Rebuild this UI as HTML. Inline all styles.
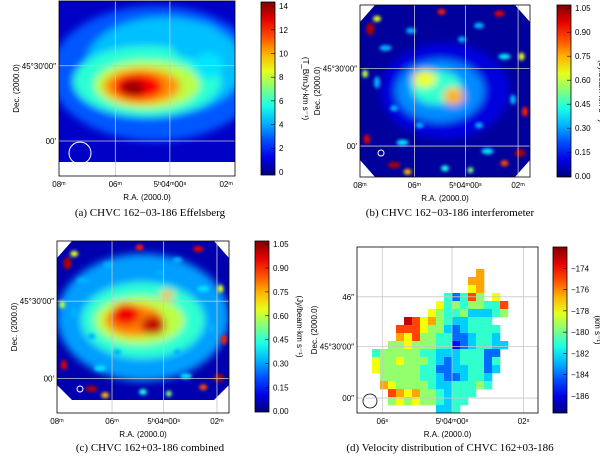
<!DOCTYPE html>
<html><head><meta charset="utf-8">
<style>
html,body{margin:0;padding:0;background:#fff;}
svg{display:block;font-family:"Liberation Serif",serif;}
.t{font-size:8px;fill:#000;font-family:"Liberation Sans",sans-serif;}
.cap{font-size:11px;fill:#000;}
</style></head>
<body>
<svg id="fig" width="600" height="459" viewBox="0 0 600 459" xmlns="http://www.w3.org/2000/svg">
<defs>
<filter id="blur6" x="-50%" y="-50%" width="200%" height="200%"><feGaussianBlur stdDeviation="4"/></filter>
<filter id="blur3" x="-50%" y="-50%" width="200%" height="200%"><feGaussianBlur stdDeviation="1.5"/></filter>
<clipPath id="clipA"><rect x="59" y="1" width="176" height="161"/></clipPath>
<clipPath id="clipB"><polygon points="375,5 515,5 530,22 530,160 515,177 375,177 360,160 360,22"/></clipPath>
<clipPath id="clipC"><polygon points="72,241 214,241 229,258 229,385 214,400 72,400 57,385 57,258"/></clipPath>
</defs>
<g id="panels"></g>
</svg>
<script>
// ---------- data ----------
const cbarATicks = [0,2,4,6,8,10,12,14];
const cbarBTicks = [0.00,0.15,0.30,0.45,0.60,0.75,0.90,1.05];
const cbarCTicks = [0.00,0.15,0.30,0.45,0.60,0.75,0.90,1.05];
const cbarDTicks = [-174,-176,-178,-180,-182,-184,-186];
const velocityLevels = [-186.5,-185.5,-184,-182.5,-181,-179.5,-178,-176.5,-175,-173];
const velocityRows = [
".............7....",
"............77....",
"............67....",
".........42485.6..",
"........645455448.",
".......6544533345.",
"....98675433444...",
"...8886553234444..",
"...7685544223443..",
"..556555441234433.",
"4555554433344422..",
"6556555432344424..",
"6555554422334423..",
".55555443223443...",
".76555543344454...",
"..87675543444.....",
"..5656554344......",
"........334......."
];
// intensity blobs [cx, cy, rx, ry, value]  (fraction coords of panel)
const blobsA = [[0.55,0.45,0.6,0.42,3],[0.6,0.4,0.45,0.3,4.5],[0.5,0.5,0.42,0.22,6],[0.5,0.52,0.3,0.15,8],[0.47,0.53,0.22,0.11,10.5],[0.45,0.53,0.14,0.08,12.5],[0.42,0.54,0.07,0.05,14],[0.78,0.25,0.15,0.12,4.5],[0.85,0.4,0.08,0.08,5]];
const blobsB = [[0.5,0.5,0.38,0.28,0.1],[0.47,0.5,0.26,0.18,0.28],[0.45,0.48,0.15,0.1,0.45],[0.38,0.43,0.07,0.05,0.65],[0.55,0.53,0.06,0.05,0.75]];
const blobsC = [[0.5,0.48,0.5,0.4,0.3],[0.5,0.5,0.36,0.24,0.45],[0.48,0.5,0.26,0.15,0.6],[0.45,0.5,0.17,0.1,0.8],[0.4,0.46,0.08,0.07,0.95],[0.56,0.53,0.07,0.06,1.0],[0.64,0.34,0.04,0.03,0.75]];

function jet(t){t=Math.max(0,Math.min(1,t));
 const r=Math.max(0,Math.min(1,1.5-Math.abs(4*t-3))),g=Math.max(0,Math.min(1,1.5-Math.abs(4*t-2))),b=Math.max(0,Math.min(1,1.5-Math.abs(4*t-1)));
 return `rgb(${Math.round(r*255)},${Math.round(g*255)},${Math.round(b*255)})`;}
const NS="http://www.w3.org/2000/svg";
const root=document.getElementById('panels');
function el(tag,attrs,parent){const e=document.createElementNS(NS,tag);for(const k in attrs)e.setAttribute(k,attrs[k]);(parent||root).appendChild(e);return e;}
function txt(x,y,s,cls,anchor,parent){const e=el('text',{x:x,y:y,class:cls,'text-anchor':anchor||'start'},parent);e.textContent=s;return e;}

function colorbar(name,x,y0,y1,vmin,vmax,ticks,fmt,label){
 const g=el('g',{});
 
 
 const id='grad-'+name;
 const lg=el('linearGradient',{id:id,x1:0,y1:1,x2:0,y2:0},document.querySelector('defs'));
 for(let i=0;i<=10;i++){el('stop',{offset:i/10,'stop-color':jet(i/10)},lg);}
 el('rect',{x:x,y:y0,width:14,height:y1-y0,fill:`url(#${id})`,stroke:'#000','stroke-width':0.8},g);
 const sy=v=>y1-(v-vmin)/(vmax-vmin)*(y1-y0);
 ticks.forEach(v=>{const yy=sy(v);el('line',{x1:x+10,x2:x+14,y1:yy,y2:yy,stroke:'#000','stroke-width':0.6},g);
  const t=txt(x+18,yy+3,fmt(v),'t','start',g);
  
  });
 const l=txt(0,0,label,'t','middle',g);l.setAttribute('transform',`translate(${x+42},${(y0+y1)/2}) rotate(90)`);l.setAttribute('font-size','7');
}

function frame(name,x0,y0,x1,y1,vx,hy,xl,yl,cap,capx,capy){
 const g=el('g',{});
 
 
 vx.forEach(v=>el('line',{x1:x0+v*(x1-x0),x2:x0+v*(x1-x0),y1:y0,y2:y1,stroke:'#c8c8c8','stroke-width':0.8},g));
 hy.forEach(v=>el('line',{x1:x0,x2:x1,y1:y0+v*(y1-y0),y2:y0+v*(y1-y0),stroke:'#c8c8c8','stroke-width':0.8},g));
 el('rect',{x:x0,y:y0,width:x1-x0,height:y1-y0,fill:'none',stroke:'#000','stroke-width':0.8},g);
 xl.forEach(([v,s])=>{const t=txt(x0+v*(x1-x0),y1+11,s,'t','middle',g);t.setAttribute('font-size','7');});
 yl.forEach(([v,s])=>{const t=txt(x0-3,y0+v*(y1-y0)+3,s,'t','end',g);t.setAttribute('font-size','7');});
 const xt=txt((x0+x1)/2,y1+24,'R.A. (2000.0)','t','middle',g);xt.setAttribute('font-size','9');
 const yt=txt(0,0,'Dec. (2000.0)','t','middle',g);yt.setAttribute('font-size','9');
 yt.setAttribute('transform',`translate(${x0-40},${(y0+y1)/2}) rotate(-90)`);
 const c=txt(capx,capy,cap,'cap','middle');
 
 
}

function blobMap(name,x0,y0,w,h,clip,vmax,blobs,bgVal,noise){
 const g=el('g',{'clip-path':`url(#${clip})`});
 
 
 el('rect',{x:x0,y:y0,width:w,height:h,fill:jet(bgVal/vmax)},g);
 const gb=el('g',{filter:'url(#blur6)'},g);
 blobs.forEach(b=>{const e=el('ellipse',{cx:x0+b[0]*w,cy:y0+b[1]*h,rx:b[2]*w,ry:b[3]*h,fill:jet(b[4]/vmax)},gb);
  
  });
 if(noise){const gn=el('g',{filter:'url(#blur3)'},g);
  noise.forEach(n=>el('ellipse',{cx:x0+n[0]*w,cy:y0+n[1]*h,rx:n[2],ry:n[3],fill:jet(n[4])},gn));}
 return g;
}
// edge noise specks [fx,fy,rx,ry,t]
const edgeSpecks=[
[0.15,0.25,6,3,0.3],[0.1,0.45,3,6,0.3],[0.85,0.3,6,3,0.35],[0.9,0.55,3,5,0.3],[0.25,0.8,6,3,0.35],[0.75,0.85,6,3,0.35],
[0.3,0.15,5,3,0.3],[0.7,0.12,5,3,0.3],[0.6,0.2,4,3,0.3],[0.35,0.7,4,3,0.3],[0.7,0.7,4,3,0.3],[0.2,0.6,4,3,0.3],
[0.06,0.14,4,6,0.95],[0.1,0.08,4,3,0.6],[0.94,0.86,5,4,0.95],[0.97,0.62,3,5,0.85],[0.04,0.78,3,5,0.9],
[0.2,0.93,6,3,0.95],[0.28,0.97,4,3,0.7],[0.82,0.05,5,3,0.9],[0.48,0.04,4,3,0.85],[0.95,0.3,3,4,0.6],
[0.5,0.95,4,3,0.4],[0.85,0.92,4,3,0.8],[0.03,0.4,3,4,0.55],[0.65,0.96,3,3,0.5]];

// Panel A
blobMap('panel-a',59,1,176,161,'clipA',14.35,blobsA,1,null);
el('rect',{x:59,y:162,width:176,height:14,fill:'#fff'});
el('circle',{cx:80,cy:153,r:11,fill:'none',stroke:'#fff','stroke-width':1});
frame('panel-a',59,1,235,176,[0.32,0.63],[0.37,0.8],[[0.0,'08ᵐ'],[0.32,'06ᵐ'],[0.63,'5ʰ04ᵐ00ˢ'],[0.95,'02ᵐ']],[[0.37,'45°30′00″'],[0.8,'00′']],'(a) CHVC 162−03-186 Effelsberg',150,216);
colorbar('colorbar-a',261,2,175,-0.26,14.35,cbarATicks,v=>String(v),'(T_B/mJy·km s⁻¹)');

// Panel B
blobMap('panel-b',360,5,170,172,'clipB',1.07,blobsB,0.03,edgeSpecks);
el('circle',{cx:381,cy:153,r:3,fill:'none',stroke:'#fff','stroke-width':1});
frame('panel-b',360,5,530,177,[0.32,0.62,0.93],[0.37,0.82],[[0.0,'08ᵐ'],[0.32,'06ᵐ'],[0.62,'5ʰ04ᵐ00ˢ'],[0.93,'02ᵐ']],[[0.37,'45°30′00″'],[0.82,'00′']],'(b) CHVC 162−03-186 interferometer',450,216);
colorbar('colorbar-b',557,5,177,-0.005,1.07,cbarBTicks,v=>v.toFixed(2),'(Jy/beam·km s⁻¹)');

// Panel C
blobMap('panel-c',57,241,172,159,'clipC',1.07,blobsC,0.05,edgeSpecks);
el('rect',{x:57,y:400,width:172,height:13,fill:'#fff'});
el('circle',{cx:80,cy:389,r:3,fill:'none',stroke:'#fff','stroke-width':1});
frame('panel-c',57,241,229,413,[0.32,0.62,0.93],[0.35,0.8],[[0.0,'08ᵐ'],[0.32,'06ᵐ'],[0.62,'5ʰ04ᵐ00ˢ'],[0.93,'02ᵐ']],[[0.35,'45°30′00″'],[0.8,'00′']],'(c) CHVC 162+03-186 combined',150,451);
colorbar('colorbar-c',255,241,412,-0.005,1.07,cbarCTicks,v=>v.toFixed(2),'(Jy/beam·km s⁻¹)');

// Panel D
(function(){
 const x0=357,y0=247,x1=538,y1=413, ox=372, oy=269, cs=8;
 const vmin=-187.6, vmax=-172;
 const g=el('g',{});
 
 
 velocityRows.forEach((row,r)=>{[...row].forEach((ch,c)=>{ if(ch==='.')return;
  const v=velocityLevels[+ch];
  const cell=el('rect',{x:ox+c*cs,y:oy+r*cs,width:cs+0.3,height:cs+0.3,fill:jet((v-vmin)/(vmax-vmin))},g);
  
  });});
 el('circle',{cx:370,cy:401,r:7,fill:'none',stroke:'#000','stroke-width':0.8});
 frame('panel-d',x0,y0,x1,y1,[0.14,0.525,0.92],[0.3,0.6,0.91],[[0.14,'06ˢ'],[0.525,'5ʰ04ᵐ00ˢ'],[0.92,'02ˢ']],[[0.3,'46″'],[0.6,'45°30′00″'],[0.91,'00″']],'(d) Velocity distribution of CHVC 162+03-186',450,451);
 colorbar('colorbar-d',553,247,413,vmin,vmax,cbarDTicks,v=>'−'+Math.abs(v),'(km s⁻¹)');
})();
</script>
</body></html>
